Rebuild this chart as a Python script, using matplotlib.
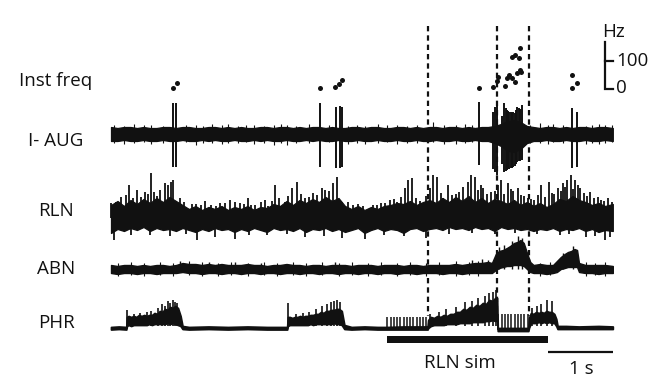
import matplotlib
matplotlib.use("Agg")
import matplotlib.pyplot as plt
import numpy as np

plt.rcParams["font.family"] = ["Open Sans", "DejaVu Sans"]

# ---------------------------------------------------------------
# Recorded traces (time in s, amplitudes in display units, + = up)
# ---------------------------------------------------------------

# Instantaneous firing frequency of the I-AUG unit
if_t = [0.95, 1.02, 3.22, 3.45, 3.51, 3.55,
        5.66, 5.88, 5.94, 5.95, 6.06, 6.09, 6.12, 6.17, 6.22, 6.25,
        6.29, 6.31, 6.17, 6.22, 6.28, 6.29, 7.09, 7.17, 7.09]
if_hz = [4, 21, 4, 7, 18, 32,
         4, 7, 29, 43, 11, 39, 50, 39, 25, 57,
         68, 61, 114, 121, 111, 146, 50, 21, 4]

# common 0.1 s knot grid used for the noise envelopes
grid_t = [0.0, 0.1, 0.2, 0.3, 0.4, 0.5, 0.6, 0.7, 0.8, 0.9,
          1.0, 1.1, 1.2, 1.3, 1.4, 1.5, 1.6, 1.7, 1.8, 1.9,
          2.0, 2.1, 2.2, 2.3, 2.4, 2.5, 2.6, 2.7, 2.8, 2.9,
          3.0, 3.1, 3.2, 3.3, 3.4, 3.5, 3.6, 3.7, 3.8, 3.9,
          4.0, 4.1, 4.2, 4.3, 4.4, 4.5, 4.6, 4.7, 4.8, 4.9,
          5.0, 5.1, 5.2, 5.3, 5.4, 5.5, 5.6, 5.7, 5.8, 5.9,
          6.0, 6.1, 6.2, 6.3, 6.4, 6.5, 6.6, 6.7, 6.8, 6.9,
          7.0, 7.1, 7.2, 7.3, 7.4, 7.5, 7.6, 7.72]

# I-AUG unit: background noise band
iaug_hi = [7, 6, 7, 7, 6, 7, 6, 6, 7, 7,
           6, 7, 7, 6, 6, 7, 7, 6, 7, 6,
           7, 6, 6, 7, 7, 6, 7, 7, 6, 7,
           6, 7, 7, 6, 7, 6, 6, 7, 7, 6,
           7, 7, 6, 6, 7, 7, 6, 7, 6, 7,
           7, 6, 7, 7, 6, 7, 6, 7, 7, 8,
           10, 13, 14, 12, 8, 7, 6, 7, 7, 6,
           7, 6, 7, 7, 6, 7, 7, 6]
iaug_lo = [-7, -7, -6, -7, -7, -6, -7, -7, -6, -7,
           -7, -6, -7, -7, -6, -7, -6, -7, -7, -6,
           -7, -7, -6, -7, -6, -7, -7, -6, -7, -7,
           -6, -7, -6, -7, -7, -6, -7, -7, -6, -7,
           -7, -6, -7, -7, -6, -7, -7, -6, -7, -7,
           -6, -7, -7, -6, -7, -7, -6, -7, -7, -9,
           -12, -17, -18, -15, -9, -7, -7, -6, -7, -7,
           -6, -7, -7, -6, -7, -7, -6, -7]
# I-AUG action potentials (peak up / trough down)
iaug_spk_t = [0.95, 1.00, 3.22, 3.46, 3.52, 3.55,
              5.66, 5.88, 5.91, 5.94, 6.02, 6.05, 6.07, 6.09, 6.11, 6.13,
              6.15, 6.17, 6.19, 6.21, 6.23, 6.25, 6.27, 6.29, 6.32,
              7.09, 7.17]
iaug_spk_up = [31, 31, 31, 27, 28, 27,
               32, 22, 27, 31, 18, 31, 26, 24, 23, 22,
               22, 21, 22, 21, 24, 27, 26, 25, 29,
               26, 22]
iaug_spk_dn = [-33, -33, -33, -34, -34, -33,
               -31, -35, -38, -41, -30, -38, -37, -36, -35, -35,
               -34, -34, -33, -32, -30, -28, -27, -27, -26,
               -34, -33]
# smaller noise deflections on the I-AUG channel
iaug_nz_t = [0.05, 0.2, 0.35, 0.5, 0.62, 0.8, 1.15, 1.3, 1.42, 1.55,
             1.7, 1.8, 1.95, 2.08, 2.2, 2.35, 2.5, 2.62, 2.7, 2.85,
             3.05, 3.35, 3.65, 3.78, 3.9, 4.1, 4.25, 4.4, 4.55, 4.7,
             4.95, 5.12, 5.3, 5.45, 5.55, 6.45, 6.6, 6.72, 6.8, 6.95,
             7.3, 7.4, 7.5, 7.6, 7.7]
iaug_nz_up = [9, 8, 10, 9, 9, 8, 9, 9, 8, 10,
              9, 10, 8, 9, 9, 8, 9, 10, 9, 8,
              10, 9, 8, 9, 8, 10, 9, 9, 8, 9,
              12, 9, 9, 10, 9, 9, 11, 9, 10, 9,
              8, 9, 10, 9, 9]
iaug_nz_dn = [-9, -10, -9, -8, -10, -9, -8, -11, -9, -9,
              -10, -9, -9, -8, -10, -9, -11, -9, -11, -9,
              -9, -8, -10, -9, -10, -9, -8, -10, -9, -9,
              -8, -10, -10, -9, -8, -9, -9, -10, -8, -9,
              -10, -9, -10, -9, -8]

# RLN: body of the multi-unit activity
rln_hi = [13, 17, 12, 18, 14, 19, 15, 20, 16, 21,
          17, 13, 9, 12, 8, 11, 9, 12, 8, 11,
          9, 12, 8, 11, 10, 14, 12, 17, 13, 18,
          15, 19, 16, 21, 17, 20, 12, 9, 12, 8,
          11, 9, 12, 13, 15, 14, 17, 13, 16, 18,
          15, 20, 16, 21, 17, 22, 16, 20, 15, 19,
          17, 14, 18, 13, 16, 12, 15, 11, 14, 19,
          17, 22, 18, 16, 13, 15, 12, 14]
rln_lo = [-15, -11, -13, -10, -12, -9, -13, -10, -12, -11,
          -13, -10, -12, -14, -11, -13, -10, -12, -11, -14,
          -11, -13, -10, -12, -14, -10, -12, -11, -13, -10,
          -14, -11, -12, -10, -13, -11, -14, -12, -10, -15,
          -12, -10, -13, -11, -12, -15, -11, -10, -13, -11,
          -10, -12, -9, -11, -10, -12, -9, -11, -10, -13,
          -9, -11, -10, -12, -11, -13, -11, -12, -10, -13,
          -11, -12, -10, -13, -11, -14, -12, -13]
# RLN: upward unit spikes
rln_spk_t = [0.0, 0.08, 0.23, 0.28, 0.34, 0.40, 0.46, 0.52, 0.62, 0.66,
             0.75, 0.83, 0.88, 0.92, 0.95, 1.06, 1.25, 1.38, 1.45, 1.54,
             1.62, 1.75, 1.83, 1.91, 1.98, 2.05, 2.11, 2.22, 2.30, 2.37,
             2.42, 2.52, 2.68, 2.78, 2.86, 2.98, 3.11, 3.25, 3.29, 3.42,
             3.48, 3.55, 3.72, 3.88, 4.03, 4.15, 4.29, 4.40, 4.52, 4.57,
             4.63, 4.75, 4.91, 4.95, 5.02, 5.10, 5.18, 5.30, 5.42, 5.49,
             5.54, 5.60, 5.69, 5.78, 5.85, 5.95, 6.00, 6.11, 6.19, 6.26,
             6.35, 6.42, 6.50, 6.57, 6.62, 6.74, 6.81, 6.88, 6.95, 7.02,
             7.08, 7.14, 7.18, 7.27, 7.37, 7.43, 7.49, 7.58, 7.65, 7.70,
             0.15, 0.57, 0.70, 1.12, 1.31, 1.68, 2.16, 2.47, 2.58, 2.73,
             2.92, 3.04, 3.17, 3.35, 3.64, 3.80, 4.09, 4.22, 4.35, 4.46,
             4.69, 4.84, 5.07, 5.24, 5.36, 5.65, 5.72, 5.90, 6.05, 6.15,
             6.31, 6.46, 6.67, 6.78, 6.92, 6.99, 7.11, 7.22, 7.32, 7.54]
rln_spk_up = [15, 16, 23, 33, 20, 28, 21, 26, 45, 26,
              28, 35, 33, 36, 38, 20, 14, 13, 17, 13,
              12, 15, 18, 16, 15, 14, 20, 13, 16, 18,
              12, 33, 16, 30, 36, 20, 25, 30, 28, 35,
              41, 16, 13, 12, 13, 15, 18, 16, 30, 38,
              40, 17, 30, 43, 41, 20, 33, 24, 31, 36,
              43, 41, 33, 24, 26, 33, 38, 35, 27, 30,
              22, 20, 18, 23, 33, 36, 24, 30, 35, 38,
              43, 38, 33, 25, 26, 20, 21, 17, 20, 16,
              21, 24, 22, 16, 14, 15, 13, 17, 20, 22,
              24, 21, 23, 27, 16, 14, 13, 15, 19, 21,
              20, 22, 25, 23, 26, 28, 30, 27, 24, 29,
              23, 19, 21, 25, 27, 31, 29, 30, 22, 18]
# RLN: downward deflections
rln_dn_t = [0.05, 0.30, 0.60, 0.90, 1.15, 1.33, 1.60, 1.90, 2.13, 2.40,
            2.70, 2.98, 3.28, 3.55, 3.90, 4.20, 4.50, 4.85, 5.20, 5.55,
            5.90, 6.22, 6.55, 6.90, 7.05, 7.30, 7.45, 7.60, 7.68]
rln_dn = [-22, -17, -17, -18, -16, -22, -19, -21, -17, -17,
          -16, -19, -18, -20, -21, -17, -18, -20, -16, -15,
          -16, -15, -16, -17, -16, -19, -18, -22, -19]

# ABN: multi-unit band with two expiratory bursts
abn_t = grid_t[:59] + [5.86, 5.92, 5.97, 6.03, 6.09, 6.14, 6.2, 6.25, 6.3,
                       6.35, 6.4, 6.45, 6.5, 6.6, 6.7, 6.8, 6.86, 6.92,
                       6.98, 7.03, 7.08, 7.13, 7.17, 7.2, 7.3, 7.4, 7.5,
                       7.6, 7.72]
abn_hi = [4, 3, 4, 4, 3, 4, 3, 4, 4, 3,
          4, 6, 5, 5, 4, 5, 4, 5, 4, 4,
          4, 5, 4, 4, 3, 4, 4, 5, 4, 4,
          3, 4, 4, 3, 4, 4, 4, 3, 4, 4,
          4, 3, 4, 4, 4, 3, 4, 4, 3, 4,
          4, 4, 4, 5, 4, 5, 6, 6, 7,
          6, 15, 18, 19, 21, 23, 26, 27, 29, 26,
          16, 7, 4, 5, 4, 4, 8, 12, 15, 17,
          18, 20, 19, 6, 4, 4, 4, 4, 3]
abn_lo = [-4, -5, -4, -4, -5, -4, -4, -5, -4, -4,
          -4, -3, -4, -4, -5, -4, -4, -5, -4, -4,
          -5, -4, -4, -5, -4, -4, -5, -4, -4, -5,
          -4, -4, -5, -4, -4, -5, -4, -4, -5, -4,
          -4, -5, -4, -4, -5, -4, -4, -5, -4, -4,
          -4, -5, -4, -4, -5, -4, -4, -4, -4,
          -4, -1, 1, 2, 3, 3, 4, 4, 4, 3,
          0, -3, -4, -4, -5, -4, -3, 0, 1, 2,
          2, 2, 2, -3, -4, -4, -5, -4, -4]
abn_spk_t = [1.06, 1.50, 1.90, 2.30, 3.45, 5.55, 5.70, 5.80, 5.97, 6.05,
             6.17, 6.26, 6.33, 6.95, 7.10]
abn_spk_up = [8, 7, 7, 6, 7, 9, 10, 9, 22, 24, 28, 33, 31, 16, 23]
# ABN: small noise deflections
abn_nz_t = [0.1, 0.3, 0.5, 0.75, 0.95, 1.2, 1.4, 1.65, 1.85, 2.1,
            2.35, 2.55, 2.8, 3.0, 3.25, 3.5, 3.7, 3.95, 4.15, 4.4,
            4.6, 4.85, 5.05, 5.3, 5.5, 5.65, 6.6, 6.75, 7.3, 7.45, 7.6]
abn_nz_up = [6, 7, 6, 7, 6, 8, 7, 6, 7, 6,
             7, 6, 7, 6, 7, 6, 7, 6, 7, 6,
             7, 6, 7, 8, 7, 8, 6, 7, 7, 6, 7]
abn_nz_dn = [-7, -6, -7, -6, -7, -6, -7, -7, -6, -7,
             -6, -7, -6, -7, -6, -7, -6, -7, -6, -7,
             -6, -7, -6, -7, -6, -7, -7, -6, -7, -6, -7]

# PHR: phrenic bursts on a flat baseline (segment by segment)
phr_b1_t = [0.245, 0.27, 0.31, 0.35, 0.39, 0.43, 0.47, 0.51, 0.55, 0.59,
            0.63, 0.67, 0.71, 0.75, 0.79, 0.83, 0.87, 0.91, 0.95, 0.99,
            1.03, 1.07]
phr_b1_hi = [11, 12, 11, 12, 11, 13, 12, 13, 12, 13,
             13, 15, 14, 17, 16, 19, 18, 21, 20, 22, 20, 12]
phr_b1_lo = [2, 3, 2, 3, 3, 3, 3, 3, 3, 4,
             3, 4, 4, 4, 4, 4, 5, 4, 5, 4, 3, 2]
phr_b2_t = [2.72, 2.75, 2.79, 2.83, 2.87, 2.91, 2.95, 2.99, 3.03, 3.07,
            3.11, 3.15, 3.19, 3.23, 3.27, 3.31, 3.35, 3.39, 3.43, 3.47,
            3.51, 3.55, 3.59]
phr_b2_hi = [11, 11, 10, 11, 11, 12, 11, 12, 12, 13,
             13, 14, 14, 16, 15, 17, 17, 18, 18, 19, 19, 17, 3]
phr_b2_lo = [2, 3, 3, 3, 3, 3, 3, 3, 3, 4,
             3, 4, 4, 4, 4, 4, 4, 4, 5, 4, 4, 3, -1]
phr_b3_t = [4.88, 4.92, 4.97, 5.02, 5.07, 5.12, 5.17, 5.22, 5.27, 5.32,
            5.37, 5.42, 5.47, 5.52, 5.57, 5.62, 5.67, 5.72, 5.77, 5.82,
            5.87, 5.91, 5.94]
phr_b3_hi = [8, 11, 10, 12, 11, 13, 12, 14, 14, 16,
             16, 19, 18, 21, 20, 23, 22, 25, 24, 28, 27, 30, 30]
phr_b3_lo = [0, 2, 3, 3, 3, 3, 4, 4, 4, 4,
             5, 5, 5, 5, 6, 6, 6, 6, 7, 7, 8, 7, 8]
phr_b4_t = [6.43, 6.46, 6.5, 6.54, 6.58, 6.62, 6.66, 6.7, 6.74, 6.78,
            6.82, 6.85, 6.87]
phr_b4_hi = [10, 15, 14, 16, 15, 16, 15, 17, 16, 16, 14, 9, 2]
phr_b4_lo = [0, 5, 5, 5, 6, 5, 6, 5, 6, 5, 5, 2, -1]

phr_t = ([0.0, 0.12, 0.235] + phr_b1_t +
         [1.1, 1.2, 1.5, 1.8, 2.1, 2.4, 2.71] + phr_b2_t +
         [3.7, 3.9, 4.1, 4.25, 4.5, 4.87] + phr_b3_t +
         [5.95, 6.1, 6.3, 6.42] + phr_b4_t +
         [7.0, 7.2, 7.5, 7.72])
phr_hi = ([1, 1.5, 1] + phr_b1_hi +
          [2, 1, 1.5, 1, 1.5, 1, 1] + phr_b2_hi +
          [1, 1.5, 1, 1, 1.5, 1.5] + phr_b3_hi +
          [0, 0, 0, 0] + phr_b4_hi +
          [2, 1.5, 2, 1.5])
phr_lo = ([-1.5, -1, -1.5] + phr_b1_lo +
          [-1, -1.5, -1, -1.5, -1, -1.5, -1.5] + phr_b2_lo +
          [-1.5, -1, -1.5, -1.5, -1.5, -1.5] + phr_b3_lo +
          [-3, -3, -3, -3] + phr_b4_lo +
          [-1, -1, -1, -1])
phr_spk_t = [0.25, 0.35, 0.45, 0.55, 0.62, 0.72, 0.78, 0.83, 0.88, 0.91,
             0.95, 0.98, 1.02,
             2.73, 2.85, 2.95, 3.05, 3.15, 3.25, 3.32, 3.38, 3.43, 3.48, 3.52,
             4.90, 5.05, 5.15, 5.30, 5.45, 5.55, 5.65, 5.75, 5.82, 5.88, 5.92,
             6.47, 6.55, 6.62, 6.71, 6.78]
phr_spk_up = [18, 14, 15, 16, 17, 20, 24, 22, 27, 25,
              28, 26, 25,
              25, 14, 15, 16, 19, 22, 24, 26, 27, 28, 26,
              14, 16, 19, 21, 26, 27, 30, 32, 35, 36, 38,
              20, 22, 24, 28, 27]
# stimulus artefacts picked up on PHR during RLN stimulation
phr_art_t = [4.25, 4.30, 4.35, 4.40, 4.45, 4.50, 4.55, 4.60, 4.65, 4.70,
             4.75, 4.80, 4.85,
             5.96, 6.01, 6.06, 6.11, 6.16, 6.21, 6.26, 6.31, 6.36, 6.41]
phr_art_up = [11, 11, 11, 11, 11, 11, 11, 11, 11, 11,
              11, 11, 11,
              14, 14, 14, 14, 14, 14, 14, 14, 14, 14]
phr_art_dn = [0, 0, 0, 0, 0, 0, 0, 0, 0, 0,
              0, 0, 0,
              -2, -2, -2, -2, -2, -2, -2, -2, -2, -2]

# RLN stimulation period and event markers
stim_window = [4.25, 6.72]
event_t = [4.88, 5.94, 6.43]

# ---------------------------------------------------------------
# Layout (vertical positions of each row, downward units)
# ---------------------------------------------------------------
Y_IF0, IF_GAIN = 89.0, 0.28        # 0 Hz level and units per Hz
Y_IAUG, Y_RLN, Y_ABN, Y_PHR = 134.0, 218.0, 269.0, 328.0
PX = 65.0                          # horizontal units per second
X0 = 111.0                         # left edge of the sweeps

fig = plt.figure(figsize=(6.7, 3.78), dpi=100)
fig.patch.set_facecolor("white")
ax = fig.add_axes([0, 0, 1, 1])
ax.set_xlim(-X0 / PX, (670 - X0) / PX)
ax.set_ylim(378, 0)
ax.axis("off")

K = "#111111"


def band(t, hi, lo, y0, lw=0.9):
    t = np.asarray(t, float)
    ax.fill_between(t, y0 - np.asarray(hi, float), y0 - np.asarray(lo, float),
                    color=K, lw=lw, edgecolor=K)


def spikes(t, top, y0, base=0.0, lw=1.0):
    ax.vlines(t, y0 - np.asarray(base, float), y0 - np.asarray(top, float),
              color=K, lw=lw)


# I-AUG
band(grid_t, iaug_hi, iaug_lo, Y_IAUG)
spikes(iaug_nz_t, iaug_nz_up, Y_IAUG, base=iaug_nz_dn, lw=0.8)
spikes(iaug_spk_t, iaug_spk_up, Y_IAUG, base=iaug_spk_dn, lw=1.4)

# RLN
band(grid_t, rln_hi, rln_lo, Y_RLN)
spikes(rln_spk_t, rln_spk_up, Y_RLN, lw=1.3)
spikes(rln_dn_t, rln_dn, Y_RLN, lw=1.3)

# ABN
band(abn_t, abn_hi, abn_lo, Y_ABN, lw=1.0)
spikes(abn_nz_t, abn_nz_up, Y_ABN, base=abn_nz_dn, lw=0.8)
spikes(abn_spk_t, abn_spk_up, Y_ABN, lw=1.0)

# PHR
band(phr_t, phr_hi, phr_lo, Y_PHR, lw=1.3)
spikes(phr_spk_t, phr_spk_up, Y_PHR, base=2, lw=1.2)
spikes(phr_art_t, phr_art_up, Y_PHR, base=phr_art_dn, lw=1.1)

# instantaneous frequency dots
ax.plot(if_t, Y_IF0 - IF_GAIN * np.asarray(if_hz, float), "o",
        color=K, ms=3.6, mec="none")

# event markers
ax.vlines(event_t, 26, 316, color=K, lw=1.6, linestyles=(0, (2.4, 1.8)))

# stimulation bar
ax.fill_between(stim_window, 336, 343, color=K, lw=0)
ax.text(np.mean(stim_window) - 0.12, 363, "RLN sim", ha="center",
        va="center", fontsize=13.5, color=K)

# 1 s time scale bar
ax.plot([stim_window[1], stim_window[1] + 1.0], [352, 352], color=K, lw=1.6,
        solid_capstyle="butt")
ax.text(stim_window[1] + 0.52, 369, "1 s", ha="center", va="center",
        fontsize=13.5, color=K)

# frequency scale bar (0-100 Hz)
xs = (605 - X0) / PX
xt = (613 - X0) / PX
ax.plot([xs, xs, xt], [42, Y_IF0, Y_IF0], color=K, lw=1.6,
        solid_joinstyle="miter")
ax.plot([xs, xt], [Y_IF0 - IF_GAIN * 100] * 2, color=K, lw=1.6)
ax.text((602 - X0) / PX, 32, "Hz", ha="left", va="center", fontsize=13.5,
        color=K)
ax.text((616 - X0) / PX, Y_IF0 - IF_GAIN * 100, "100", ha="left",
        va="center", fontsize=13.5, color=K)
ax.text((616 - X0) / PX, Y_IF0 - 1, "0", ha="left", va="center",
        fontsize=13.5, color=K)

# row labels
lx = (56 - X0) / PX
for y, s in [(81, "Inst freq"), (141, "I- AUG"), (211, "RLN"),
             (269, "ABN"), (323, "PHR")]:
    ax.text(lx, y, s, ha="center", va="center", fontsize=13.5, color=K)

fig.savefig("out.png", dpi=100, facecolor="white")
